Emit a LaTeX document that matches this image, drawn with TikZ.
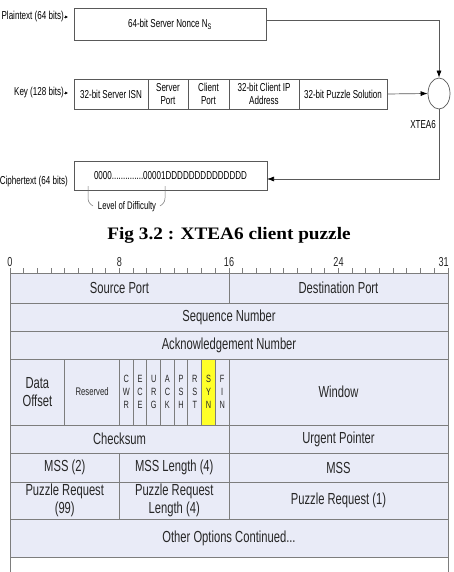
\documentclass[tikz,border=0pt]{standalone}
\usepackage{fontspec}
\setmainfont{Liberation Sans}
\newfontfamily\narrowfont[FakeStretch=0.7]{Liberation Sans}
\newfontfamily\captionfont[FakeStretch=1.1]{Liberation Serif}
\usetikzlibrary{positioning,arrows.meta,shapes.geometric}

\definecolor{hdrfill}{RGB}{233,235,247}
\definecolor{hdrline}{RGB}{125,125,125}
\definecolor{synfill}{RGB}{255,255,40}
\newcommand{\bw}{13.6875}
% one field of the header: [opts] name, first bit, last bit, top, bottom, text
\newcommand{\tcpfield}[7][]{%
  \node[cell,#1,minimum width={(#4-#3)*\bw*1pt},minimum height={(#6-#5)*1pt}]
    (#2) at ({10+(#3+#4)/2*\bw},{(#5+#6)/2}) {#7};}

\begin{document}
\begin{tikzpicture}[x=1pt,y=-1pt,
  lbl/.style={font=\narrowfont\fontsize{11.5}{13}\selectfont,inner sep=0pt},
  topbox/.style={draw=black!65,line width=0.7pt,font=\narrowfont\fontsize{11.5}{13}\selectfont,align=center,inner sep=1pt,outer sep=0pt},
  flow/.style={draw=black!65,line width=0.7pt,-{Latex[length=7pt,width=5pt,color=black]}},
  tip/.style={draw=black!65,line width=0.5pt,-{Latex[length=3pt,width=3pt,color=black]}},
  cell/.style={draw=hdrline,fill=hdrfill,line width=0.9pt,text=black!85,font=\narrowfont\fontsize{16}{18.5}\selectfont,align=center,inner sep=0pt,outer sep=0pt},
  flag/.style={font=\narrowfont\fontsize{10.5}{13}\selectfont},
  ruler/.style={font=\narrowfont\fontsize{13}{14}\selectfont,text=black!85,inner sep=0pt}]
\useasboundingbox (0,0) rectangle (454,572);

% XTEA6 client puzzle
\node[lbl,anchor=east] (ptlbl) at (64,17) {Plaintext (64 bits)};
\coordinate (pttip) at (68,17);
\draw[tip] (ptlbl.east) -- (pttip);
\node[topbox,minimum width=192pt,minimum height=32pt] (plain) at (170,24) {64-bit Server Nonce N\textsubscript{S}};

\node[lbl,anchor=east] (keylbl) at (64,93) {Key (128 bits)};
\coordinate (keytip) at (68,93);
\draw[tip] (keylbl.east) -- (keytip);
\node[topbox,minimum width=74pt,minimum height=30pt] (isn) at (111,94) {32-bit Server ISN};
\node[topbox,minimum width=40pt,minimum height=30pt,right=0pt of isn] (sport) {Server\\Port};
\node[topbox,minimum width=41pt,minimum height=30pt,right=0pt of sport] (cport) {Client\\Port};
\node[topbox,minimum width=70pt,minimum height=30pt,right=0pt of cport] (cip) {32-bit Client IP\\Address};
\node[topbox,minimum width=88pt,minimum height=30pt,right=0pt of cip] (sol) {32-bit Puzzle Solution};

\node[ellipse,draw=black!65,line width=0.7pt,minimum width=22pt,minimum height=31pt,inner sep=0pt] (xtea) at (439,93.5) {};
\node[lbl,anchor=east] (xtealbl) at (436,125) {XTEA6};

\node[lbl,anchor=east] (ctlbl) at (68,182) {Ciphertext (64 bits)};
\node[topbox,minimum width=193pt,minimum height=29pt] (cipher) at (170.5,175.5) {0000..............00001DDDDDDDDDDDDDD};

\draw[flow] ([yshift=4pt]plain.east) -| (xtea.north);
\draw[flow] (sol.east) -- (xtea.west);
\draw[flow] (xtea.south) |- ([yshift=-3.5pt]cipher.east);

% level of difficulty bracket
\draw[black!55,line width=0.5pt] (88,186) -- (88,198) .. controls (88,202) and (90,204) .. (93,206);
\draw[black!55,line width=0.5pt] (165,186) -- (165,198) .. controls (165,202) and (163,204) .. (160,206);
\node[lbl,font=\narrowfont\fontsize{11}{13}\selectfont] (lod) at (127,207) {Level of Difficulty};

\node[font=\captionfont\bfseries\fontsize{17.5}{20}\selectfont,anchor=base,inner sep=0pt] (caption) at (229,239) {Fig 3.2 : XTEA6 client puzzle};

% TCP header with puzzle options
\foreach \b in {0,...,32}
  \draw[hdrline,line width=0.9pt] ({10+\b*\bw},268) -- ({10+\b*\bw},273);
\foreach \b in {0,8,16,24}
  \node[ruler,anchor=base] (bit\b) at ({10+\b*\bw},266) {\b};
\node[ruler,anchor=base east] (bit31) at (449,266) {31};

\tcpfield{srcport}{0}{16}{273}{303}{Source Port}
\tcpfield{dstport}{16}{32}{273}{303}{Destination Port}
\tcpfield{seqnum}{0}{32}{303}{331}{Sequence Number}
\tcpfield{acknum}{0}{32}{331}{359}{Acknowledgement Number}
\tcpfield{offset}{0}{4}{359}{425}{Data\\Offset}
\tcpfield[font=\narrowfont\fontsize{11}{13}\selectfont]{reserved}{4}{8}{359}{425}{Reserved}
\tcpfield[flag]{cwr}{8}{9}{359}{425}{C\\W\\R}
\tcpfield[flag]{ece}{9}{10}{359}{425}{E\\C\\E}
\tcpfield[flag]{urg}{10}{11}{359}{425}{U\\R\\G}
\tcpfield[flag]{ack}{11}{12}{359}{425}{A\\C\\K}
\tcpfield[flag]{psh}{12}{13}{359}{425}{P\\S\\H}
\tcpfield[flag]{rst}{13}{14}{359}{425}{R\\S\\T}
\tcpfield[flag,fill=synfill]{syn}{14}{15}{359}{425}{S\\Y\\N}
\tcpfield[flag]{fin}{15}{16}{359}{425}{F\\I\\N}
\tcpfield{window}{16}{32}{359}{425}{Window}
\tcpfield{checksum}{0}{16}{425}{453}{Checksum}
\tcpfield{urgent}{16}{32}{425}{453}{Urgent Pointer}
\tcpfield{msskind}{0}{8}{453}{482}{MSS (2)}
\tcpfield{msslen}{8}{16}{453}{482}{MSS Length (4)}
\tcpfield{mss}{16}{32}{453}{482}{MSS}
\tcpfield{pzkind}{0}{8}{482}{519}{Puzzle Request\\(99)}
\tcpfield{pzlen}{8}{16}{482}{519}{Puzzle Request\\Length (4)}
\tcpfield{pzreq}{16}{32}{482}{519}{Puzzle Request (1)}
\tcpfield{options}{0}{32}{519}{557}{Other Options Continued...}

\draw[hdrline,line width=0.9pt] (options.south west) -- ++(0,15);
\draw[hdrline,line width=0.9pt] (options.south east) -- ++(0,15);
\end{tikzpicture}
\end{document}
